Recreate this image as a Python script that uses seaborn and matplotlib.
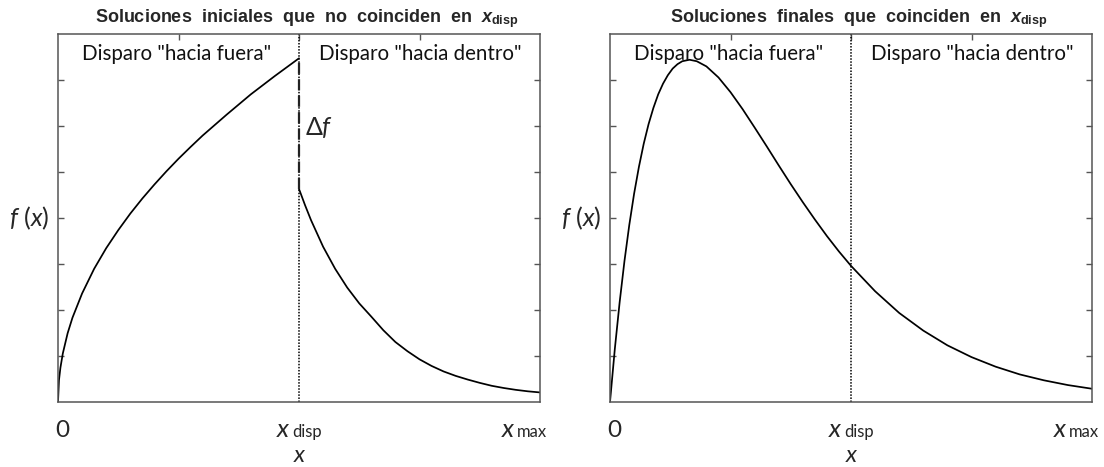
import matplotlib
matplotlib.use("Agg")
import matplotlib.pyplot as plt
import numpy as np
import pandas as pd
import seaborn as sns

# ---------------- data ----------------
x_disp = 0.5
x_max = 1.0

# left panel: initial solutions that do not match at x_disp
x_out_init = [0, 0.002, 0.005, 0.01, 0.02, 0.03, 0.05, 0.075, 0.1, 0.125, 0.15,
              0.175, 0.2, 0.225, 0.25, 0.275, 0.3, 0.35, 0.4, 0.45, 0.5]
f_out_init = [0, 0.059, 0.093, 0.132, 0.187, 0.229, 0.295, 0.362, 0.418, 0.467,
              0.512, 0.553, 0.591, 0.627, 0.661, 0.693, 0.724, 0.781, 0.836,
              0.886, 0.934]
x_in_init = [0.5, 0.5125, 0.525, 0.55, 0.575, 0.6, 0.625, 0.65, 0.675, 0.7,
             0.725, 0.75, 0.775, 0.8, 0.825, 0.85, 0.875, 0.9, 0.925, 0.95,
             0.975, 1.0]
f_in_init = [0.579, 0.535, 0.494, 0.422, 0.362, 0.311, 0.268, 0.232, 0.195,
             0.163, 0.138, 0.116, 0.098, 0.083, 0.071, 0.061, 0.052, 0.044,
             0.038, 0.033, 0.029, 0.026]

# right panel: final solution that matches at x_disp
x_final = [0, 0.01, 0.02, 0.03, 0.04, 0.05, 0.06, 0.07, 0.08, 0.09, 0.10, 0.11,
           0.12, 0.13, 0.14, 0.15, 0.165, 0.18, 0.2, 0.225, 0.25, 0.275, 0.3,
           0.325, 0.35, 0.375, 0.4, 0.425, 0.45, 0.475, 0.5, 0.55, 0.6, 0.65,
           0.7, 0.75, 0.8, 0.85, 0.9, 0.95, 1.0]
f_final = [0, 0.144, 0.271, 0.383, 0.481, 0.566, 0.639, 0.702, 0.755, 0.799,
           0.836, 0.865, 0.888, 0.906, 0.918, 0.926, 0.930, 0.926, 0.912, 0.882,
           0.842, 0.796, 0.746, 0.695, 0.643, 0.592, 0.543, 0.496, 0.451, 0.409,
           0.370, 0.301, 0.242, 0.194, 0.154, 0.122, 0.096, 0.075, 0.059, 0.046,
           0.036]

titles = ["Soluciones  iniciales  que  no  coinciden  en  ",
          "Soluciones  finales  que  coinciden  en  "]
region_labels = ['Disparo "hacia fuera"', 'Disparo "hacia dentro"']
tick_pos = [0, x_disp, x_max]
tick_main = ["0", "x", "x"]
tick_sub = ["", "disp", "max"]

# ---------------- style ----------------
sns.set_theme(style="white")
TXT = "Lato"
plt.rcParams.update({
    "font.family": [TXT, "DejaVu Sans"],
    "mathtext.fontset": "custom",
    "mathtext.it": "Lato:italic",
    "mathtext.rm": "Lato",
    "mathtext.bf": "Liberation Sans:bold:italic",
    "mathtext.sf": "Liberation Sans:bold",
    "axes.edgecolor": "#555555",
    "axes.linewidth": 1.1,
})

fig = plt.figure(figsize=(11.04, 4.67), dpi=100)
W, H = 1104, 467
ax1 = fig.add_axes([58 / W, 65 / H, 482 / W, 368 / H])
ax2 = fig.add_axes([610 / W, 65 / H, 482 / W, 368 / H])

df_out = pd.DataFrame({"x": x_out_init, "f": f_out_init})
df_in = pd.DataFrame({"x": x_in_init, "f": f_in_init})
df_fin = pd.DataFrame({"x": x_final, "f": f_final})

LW = 1.25
sns.lineplot(data=df_out, x="x", y="f", ax=ax1, color="black", lw=LW,
             estimator=None, sort=False)
sns.lineplot(data=df_in, x="x", y="f", ax=ax1, color="black", lw=LW,
             estimator=None, sort=False)
sns.lineplot(data=df_fin, x="x", y="f", ax=ax2, color="black", lw=LW,
             estimator=None, sort=False)

for i, ax in enumerate([ax1, ax2]):
    ax.axvline(x_disp, color="black", lw=1.1, ls=(0, (1, 1.0)), zorder=1)
    ax.set_xlim(0, 1)
    ax.set_ylim(0, 1)
    ax.set_xticks([0.25, 0.5, 0.75])
    ax.set_yticks(np.arange(1, 8) / 8)
    ax.tick_params(axis="x", bottom=False, top=True, labelbottom=False,
                   direction="in", length=4, width=1, color="#555555")
    ax.tick_params(axis="y", left=True, right=True, labelleft=False,
                   direction="in", length=4, width=1, color="#555555")
    ax.set_xlabel("")
    ax.set_ylabel("")

    # title
    ax.annotate(titles[i] + r"$\mathbf{x}_{\mathsf{disp}}$", xy=(0.5, 1),
                xycoords="axes fraction", xytext=(8, 12),
                textcoords="offset pixels", ha="center", va="baseline",
                fontsize=13, fontweight="bold", family="Liberation Sans")

    # region labels
    ax.text(0.245, 0.947, region_labels[0], transform=ax.transAxes,
            ha="center", va="center", fontsize=14.8, color="#111111")
    ax.text(0.751, 0.947, region_labels[1], transform=ax.transAxes,
            ha="center", va="center", fontsize=14.8, color="#111111")

    # y label
    ax.annotate("$f$ ($x$)", xy=(0, 0.5), xycoords="axes fraction",
                xytext=(-29, 0), textcoords="offset pixels", ha="center",
                va="center", fontsize=18)

    # x tick labels
    for pos, main, sub in zip(tick_pos, tick_main, tick_sub):
        if sub == "":
            ax.annotate(main, xy=(pos, 0), xycoords=("data", "axes fraction"),
                        xytext=(4, -35), textcoords="offset pixels",
                        ha="center", va="baseline", fontsize=17.5)
        else:
            dx = -9 if sub == "disp" else -25
            ax.annotate(main, xy=(pos, 0), xycoords=("data", "axes fraction"),
                        xytext=(dx - 1, -35), textcoords="offset pixels",
                        ha="right", va="baseline", fontsize=18.5,
                        fontstyle="italic")
            ax.annotate(sub, xy=(pos, 0), xycoords=("data", "axes fraction"),
                        xytext=(dx + 2, -35), textcoords="offset pixels",
                        ha="left", va="baseline", fontsize=12)

    # x axis label
    ax.annotate("x", xy=(0.5, 0), xycoords="axes fraction",
                xytext=(0, -60), textcoords="offset pixels", ha="center",
                va="baseline", fontsize=17, fontstyle="italic")

# dashed jump Δf
ax1.plot([x_disp, x_disp], [f_in_init[0], f_out_init[-1]], color="#222222",
         lw=1.6, ls=(0, (5, 2.4)), zorder=3)

# Δf annotation
ax1.annotate(r"Δ$f$", xy=(x_disp, 0.745), xycoords="data", xytext=(6, 0),
             textcoords="offset pixels", ha="left", va="center", fontsize=18)

fig.savefig("out.png", dpi=100)
